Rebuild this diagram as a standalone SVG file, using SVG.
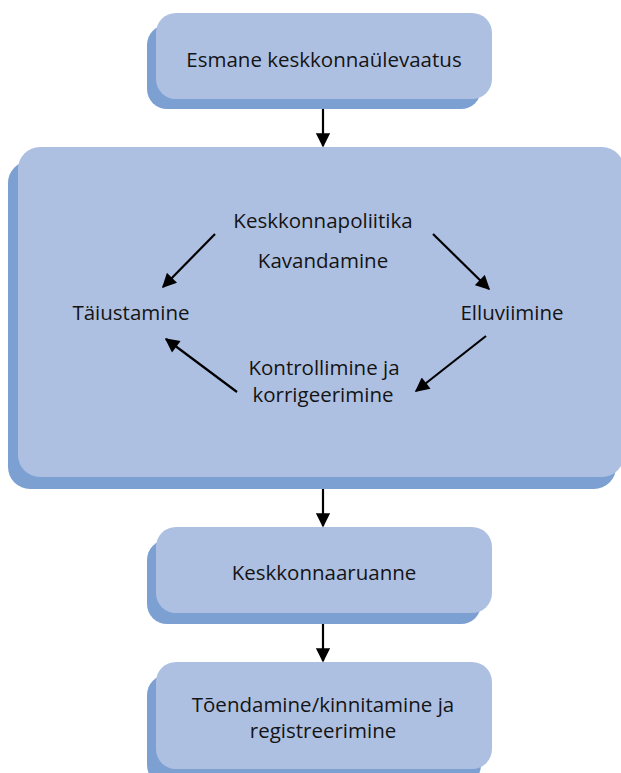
<svg xmlns="http://www.w3.org/2000/svg" width="621" height="773" viewBox="0 0 621 773">
<defs>
<style>
.sh{fill:#7da0d3}
.fr{fill:#aec0e2}
.t{font-family:"Open Sans","Noto Sans",sans-serif;font-size:20.5px;fill:#141414;text-anchor:middle}
.c{stroke:#000;stroke-width:2.2;fill:none;marker-end:url(#ah)}
</style>
<marker id="ah" viewBox="0 0 10 10" refX="9" refY="5" markerWidth="7" markerHeight="6.5" markerUnits="strokeWidth" orient="auto">
<path d="M0,0 L10,5 L0,10 z" fill="#000"/>
</marker>
</defs>
<rect width="621" height="773" fill="#fff"/>
<g id="n1">
<rect class="sh" x="147" y="25" width="334" height="84" rx="20"/>
<rect class="fr" x="156" y="13" width="336" height="86" rx="20"/>
<text class="t" x="324" y="67">Esmane keskkonnaülevaatus</text>
</g>
<g id="n2">
<rect class="sh" x="8" y="161" width="608" height="328" rx="22"/>
<rect class="fr" x="18" y="147" width="606" height="330" rx="22"/>
<text class="t" x="323" y="228">Keskkonnapoliitika</text>
<text class="t" x="323" y="268">Kavandamine</text>
<text class="t" x="131" y="320">Täiustamine</text>
<text class="t" x="512" y="320">Elluviimine</text>
<text class="t" x="324" y="375">Kontrollimine ja</text>
<text class="t" x="323" y="402">korrigeerimine</text>
</g>
<g id="n3">
<rect class="sh" x="147" y="540" width="334" height="84" rx="20"/>
<rect class="fr" x="156" y="527" width="336" height="86" rx="20"/>
<text class="t" x="324" y="580">Keskkonnaaruanne</text>
</g>
<g id="n4">
<rect class="sh" x="147" y="675" width="334" height="110" rx="20"/>
<rect class="fr" x="156" y="662" width="336" height="107" rx="20"/>
<text class="t" x="323" y="712">Tõendamine/kinnitamine ja</text>
<text class="t" x="323" y="738">registreerimine</text>
</g>
<g id="connectors">
<line class="c" x1="323" y1="109" x2="323" y2="146"/>
<line class="c" x1="323" y1="489" x2="323" y2="526"/>
<line class="c" x1="323" y1="624" x2="323" y2="661"/>
<line class="c" x1="215" y1="234" x2="163" y2="287"/>
<line class="c" x1="433" y1="234" x2="489" y2="289"/>
<line class="c" x1="486" y1="336" x2="416" y2="391"/>
<line class="c" x1="237" y1="392" x2="166" y2="339"/>
</g>
</svg>
